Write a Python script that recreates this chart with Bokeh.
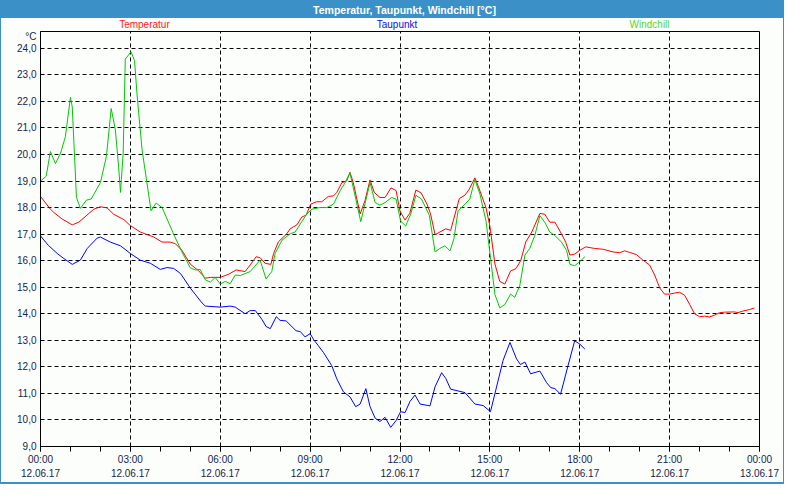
from bokeh.plotting import figure
from bokeh.models import Range1d, FixedTicker
from bokeh.layouts import column
from bokeh.embed import file_html
from bokeh.resources import INLINE
from bokeh.core.properties import value

# ---- data (hours since 12.06.17 00:00, °C) ----
temp_h = [0.0, 0.33, 0.44, 0.72, 1.06, 1.28, 1.78, 2.0, 2.22, 2.44, 2.78, 3.0, 3.33, 3.78, 4.06, 4.33, 4.5, 4.72,
          5.0, 5.28, 5.5, 5.67, 6.0, 6.28, 6.53, 6.83, 7.0, 7.2, 7.33, 7.5, 7.69, 7.78, 7.94, 8.22, 8.33, 8.56,
          8.72, 8.87, 9.02, 9.22, 9.39, 9.61, 9.78, 9.89, 10.06, 10.22, 10.33, 10.44, 10.67, 10.83, 11.0, 11.14,
          11.33, 11.5, 11.7, 11.87, 12.0, 12.17, 12.33, 12.53, 12.7, 12.9, 13.02, 13.17, 13.33, 13.53, 13.69,
          13.98, 14.17, 14.31, 14.5, 14.61, 14.87, 15.0, 15.17, 15.33, 15.5, 15.69, 15.87, 16.03, 16.2, 16.4,
          16.67, 16.83, 17.0, 17.17, 17.39, 17.53, 17.67, 17.83, 18.0, 18.2, 18.5, 18.78, 19.11, 19.33, 19.5,
          19.67, 19.89, 20.11, 20.33, 20.5, 20.67, 20.83, 21.0, 21.17, 21.33, 21.5, 21.67, 21.83, 22.0, 22.17,
          22.33, 22.5, 22.67, 22.83, 23.17, 23.28, 23.44, 23.67, 23.83]
temp_v = [18.42, 17.94, 17.82, 17.57, 17.35, 17.45, 17.94, 18.03, 17.99, 17.75, 17.55, 17.32, 17.08, 16.89, 16.7,
          16.7, 16.64, 16.39, 15.87, 15.62, 15.34, 15.37, 15.37, 15.49, 15.65, 15.59, 15.84, 16.15, 16.11, 15.9,
          15.86, 16.27, 16.71, 17.01, 17.2, 17.35, 17.64, 17.72, 18.13, 18.22, 18.22, 18.42, 18.44, 18.57, 18.94,
          19.0, 19.33, 18.94, 17.76, 18.26, 19.04, 18.57, 18.38, 18.38, 18.74, 18.64, 17.86, 17.53, 17.79, 18.66,
          18.56, 18.13, 17.76, 16.98, 17.08, 17.2, 17.14, 18.34, 18.47, 18.69, 19.12, 18.81, 18.0, 17.3, 15.87,
          15.22, 15.12, 15.61, 15.7, 16.0, 16.71, 17.08, 17.78, 17.75, 17.45, 17.45, 17.01, 16.7, 16.21, 16.25,
          16.39, 16.52, 16.46, 16.43, 16.33, 16.3, 16.37, 16.31, 16.23, 16.02, 15.84, 15.46, 14.97, 14.74, 14.74,
          14.78, 14.81, 14.7, 14.35, 14.0, 13.89, 13.91, 13.88, 13.95, 14.04, 14.06, 14.07, 14.04, 14.1, 14.16,
          14.22]

dew_h = [0.0, 0.26, 0.56, 0.78, 1.06, 1.33, 1.56, 1.89, 2.0, 2.33, 2.67, 3.0, 3.33, 3.67, 4.0, 4.22, 4.44, 4.67,
         5.0, 5.39, 5.5, 6.0, 6.33, 6.5, 6.83, 7.0, 7.17, 7.39, 7.53, 7.67, 7.87, 8.0, 8.2, 8.53, 8.67, 8.83, 9.0,
         9.11, 9.44, 9.72, 9.89, 10.11, 10.33, 10.52, 10.67, 10.86, 11.0, 11.17, 11.33, 11.5, 11.69, 11.87, 12.02,
         12.17, 12.33, 12.5, 12.67, 13.0, 13.17, 13.39, 13.53, 13.69, 14.17, 14.5, 14.78, 15.02, 15.17, 15.44,
         15.67, 15.89, 16.02, 16.17, 16.36, 16.67, 16.89, 17.03, 17.17, 17.36, 17.61, 17.83, 18.0, 18.17]
dew_v = [16.93, 16.58, 16.27, 16.08, 15.86, 16.02, 16.46, 16.85, 16.89, 16.7, 16.56, 16.27, 16.02, 15.9, 15.67,
         15.74, 15.71, 15.52, 14.97, 14.41, 14.29, 14.25, 14.29, 14.25, 14.0, 14.12, 14.12, 13.79, 13.52, 13.44,
         13.89, 13.75, 13.73, 13.36, 13.33, 13.13, 13.25, 13.04, 12.55, 12.05, 11.55, 11.06, 10.87, 10.5, 10.6,
         11.18, 10.5, 10.07, 9.94, 10.1, 9.72, 9.98, 10.31, 10.28, 10.69, 10.94, 10.6, 10.53, 11.25, 11.78, 11.56,
         11.16, 11.03, 10.6, 10.54, 10.31, 11.0, 12.24, 12.92, 12.3, 12.09, 12.18, 11.74, 11.84, 11.41, 11.22,
         11.18, 10.97, 12.05, 12.98, 12.86, 12.67]

wind_h = [0.0, 0.19, 0.33, 0.5, 0.67, 0.83, 1.0, 1.06, 1.2, 1.33, 1.53, 1.69, 2.0, 2.2, 2.36, 2.5, 2.61, 2.67, 2.7,
          2.76, 2.83, 3.02, 3.14, 3.22, 3.39, 3.69, 3.86, 4.06, 4.44, 4.72, 5.0, 5.17, 5.33, 5.5, 5.67, 5.83, 6.0,
          6.17, 6.33, 6.5, 6.67, 7.0, 7.33, 7.53, 7.72, 7.83, 8.06, 8.33, 8.5, 8.89, 9.06, 9.33, 9.56, 9.78, 10.0,
          10.17, 10.33, 10.5, 10.69, 11.0, 11.17, 11.33, 11.5, 11.72, 11.87, 12.02, 12.19, 12.36, 12.53, 12.72,
          12.98, 13.17, 13.33, 13.5, 13.67, 13.8, 13.94, 14.17, 14.33, 14.5, 14.67, 14.87, 15.0, 15.17, 15.33,
          15.5, 15.69, 15.83, 16.0, 16.17, 16.33, 16.5, 16.67, 16.83, 17.0, 17.17, 17.39, 17.56, 17.67, 17.83,
          18.0, 18.17]
wind_v = [19.0, 19.18, 20.11, 19.66, 20.05, 20.67, 22.16, 21.79, 18.38, 17.97, 18.28, 18.32, 18.94, 19.93, 21.73,
          20.92, 19.5, 18.57, 19.06, 20.05, 23.59, 23.87, 23.53, 22.29, 20.18, 17.88, 18.17, 18.0, 17.01, 16.33,
          15.73, 15.65, 15.67, 15.28, 15.19, 15.37, 15.12, 15.22, 15.13, 15.46, 15.44, 15.59, 16.02, 15.31, 15.59,
          16.27, 16.77, 17.01, 17.08, 17.76, 17.94, 18.0, 18.0, 18.13, 18.63, 18.94, 19.31, 18.44, 17.47, 18.94,
          18.19, 18.09, 18.19, 18.38, 18.32, 17.49, 17.31, 17.76, 18.46, 18.32, 17.71, 16.33, 16.46, 16.56, 16.37,
          16.83, 17.88, 18.13, 18.32, 19.06, 18.5, 17.5, 16.3, 14.72, 14.22, 14.35, 14.74, 14.62, 15.07, 16.21,
          16.46, 16.95, 17.7, 17.45, 17.08, 16.95, 16.7, 16.39, 15.86, 15.81, 15.96, 16.15]

x_ticks = [0, 3, 6, 9, 12, 15, 18, 21, 24]
x_tick_labels = ["00:00\n12.06.17", "03:00\n12.06.17", "06:00\n12.06.17", "09:00\n12.06.17",
                 "12:00\n12.06.17", "15:00\n12.06.17", "18:00\n12.06.17", "21:00\n12.06.17",
                 "00:00\n13.06.17"]
y_ticks = [9, 10, 11, 12, 13, 14, 15, 16, 17, 18, 19, 20, 21, 22, 23, 24]
y_tick_labels = ["9,0", "10,0", "11,0", "12,0", "13,0", "14,0", "15,0", "16,0", "17,0", "18,0", "19,0",
                 "20,0", "21,0", "22,0", "23,0", "24,0"]
unit_label = "°C"
title_text = "Temperatur, Taupunkt, Windchill [°C]"

series_names = ["Temperatur", "Taupunkt", "Windchill"]
series_colors = ["#FF0000", "#0000FF", "#00C800"]
legend_colors = ["#FF1A1A", "#1010E0", "#5CD41C"]
legend_x = [3.47, 11.9, 20.33]   # legend label centres, in hours

FONT = "Liberation Sans"
BG = "#FCFEFC"
BAR = "#3C90C8"
INK = "#16244A"

PX_PER_DEG = 26.87
y_top = 24.0 + 17.0 / PX_PER_DEG
BL, BR = 39, 24          # left / right borders (px)
W = 782


def bare(fig, bg):
    fig.axis.visible = False
    fig.grid.visible = False
    fig.outline_line_color = None
    fig.background_fill_color = bg
    fig.border_fill_color = bg


# ---- blue title bar (transparent figure over the blue column background) ----
tb = figure(width=W, height=18, x_range=Range1d(0, 24), y_range=Range1d(0, 1),
            output_backend="svg", toolbar_location=None,
            min_border_left=BL, min_border_right=BR, min_border_top=0, min_border_bottom=0,
            styles={"background-color": BAR})
bare(tb, None)
tb.text(x=[12.15], y=[0.5], text=[title_text],
        text_font=value(FONT), text_font_size="10.5px", text_font_style="bold",
        text_color="white", text_align="center", text_baseline="middle")

# ---- series names row ----
lg = figure(width=W, height=12, x_range=Range1d(0, 24), y_range=Range1d(0, 1),
            output_backend="svg", toolbar_location=None,
            min_border_left=BL, min_border_right=BR, min_border_top=0, min_border_bottom=0,
            styles={"background-color": BG})
bare(lg, BG)
lg.text(x=legend_x, y=[0.5] * 3, text=series_names, text_color=legend_colors,
        text_font=value(FONT), text_font_size="10px", text_align="center", text_baseline="middle")

# ---- main chart ----
p = figure(width=W, height=452, x_range=Range1d(0, 24), y_range=Range1d(9, y_top),
           output_backend="svg", toolbar_location=None,
           min_border_left=BL, min_border_right=BR, min_border_top=1, min_border_bottom=30,
           styles={"background-color": BG})
p.background_fill_color = BG
p.border_fill_color = BG
p.outline_line_color = "black"
p.outline_line_width = 1

p.line(temp_h, temp_v, line_color=series_colors[0], line_width=1)
p.line(dew_h, dew_v, line_color=series_colors[1], line_width=1)
p.line(wind_h, wind_v, line_color=series_colors[2], line_width=1)

unit_pos = y_top - 4.5 / PX_PER_DEG
xt = FixedTicker(ticks=x_ticks, minor_ticks=list(range(0, 25)))
yt = FixedTicker(ticks=y_ticks, minor_ticks=[])
p.xaxis.ticker = xt
p.yaxis.ticker = FixedTicker(ticks=y_ticks + [unit_pos], minor_ticks=[])
p.xgrid.ticker = xt
p.ygrid.ticker = yt
p.xaxis.major_label_overrides = {t: s for t, s in zip(x_ticks, x_tick_labels)}
y_over = {t: s for t, s in zip(y_ticks, y_tick_labels)}
y_over[unit_pos] = unit_label
p.yaxis.major_label_overrides = y_over

for g in (p.xgrid, p.ygrid):
    g.grid_line_color = "black"
    g.grid_line_dash = "4 3"
    g.grid_line_width = 1

for ax in (p.xaxis, p.yaxis):
    ax.axis_line_color = "black"
    ax.axis_line_width = 1
    ax.major_label_text_font = FONT
    ax.major_label_text_font_size = "10px"
    ax.major_label_text_color = INK
    ax.major_tick_line_color = "black"
    ax.minor_tick_line_color = "black"

p.xaxis.major_tick_in = 0
p.xaxis.major_tick_out = 5
p.xaxis.minor_tick_in = 0
p.xaxis.minor_tick_out = 5
p.xaxis.major_label_standoff = 2
p.xaxis.major_label_text_line_height = 1.35

p.yaxis.major_tick_in = 0
p.yaxis.major_tick_out = 0
p.yaxis.major_label_standoff = 4

layout = column(tb, lg, p, spacing=0,
                styles={"background-color": BAR,
                        "border-left": "1px solid " + BAR, "border-right": "1px solid " + BAR,
                        "border-bottom": "2px solid " + BAR})
open("out.html", "w").write(file_html(layout, INLINE))
